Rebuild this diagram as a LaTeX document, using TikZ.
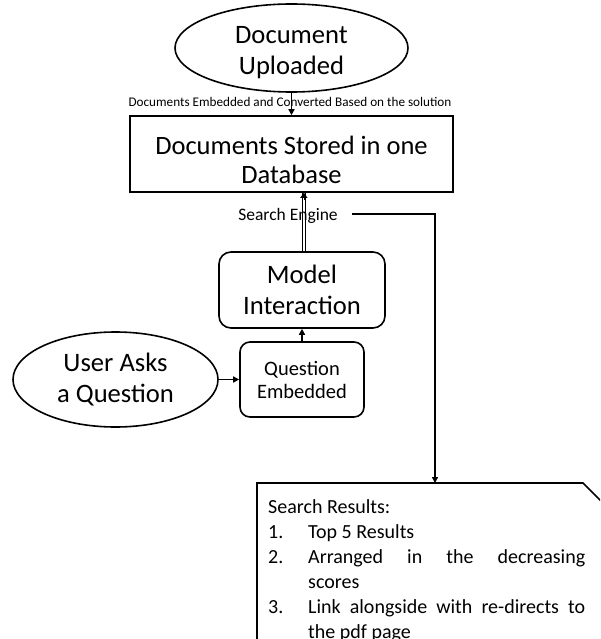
\documentclass[tikz,border=0pt]{standalone}
\usepackage{fontspec}
\setmainfont{Carlito}
\usetikzlibrary{shapes.geometric,arrows.meta}
\begin{document}
\begin{tikzpicture}[x=1pt,y=-1pt,
  box/.style={draw, line width=1.6pt, inner sep=0pt},
  oval/.style={ellipse, draw, line width=1.6pt, inner sep=0pt},
  big/.style={font=\fontsize{26.6}{31}\selectfont, align=center, inner sep=0pt},
  rtext/.style={font=\fontsize{20}{25}\selectfont, inner sep=0pt, anchor=base west},
  link/.style={line width=1.4pt, -{Triangle[length=6pt,width=6pt]}}]
\useasboundingbox (0,0) rectangle (600,639);
\fill[white] (0,0) rectangle (600,639);
\clip (0,0) rectangle (600,639);

% upload step and the database
\node[oval, minimum width=233pt, minimum height=88pt] (up) at (291.5,48) {};
\node[big] (uptext) at (291.5,52.5) {Document\\Uploaded};
\node[box, minimum width=323pt, minimum height=76pt] (db) at (291.5,154) {};
\node[font=\fontsize{26.5}{29}\selectfont, align=center, inner sep=0pt] (dbtext) at (291.5,159.5) {Documents Stored in one\\Database};
\node[font=\fontsize{13.2}{15}\selectfont, inner sep=0pt, anchor=base] (embed) at (290,106.5) {Documents Embedded and Converted Based on the solution};
\draw[link] (up.south) -- (db.north);

% query side
\node[box, rounded corners=12pt, minimum width=166pt, minimum height=76pt, big] (model) at (302,290) {Model\\Interaction};
\node[box, rounded corners=10pt, minimum width=124pt, minimum height=75pt, font=\fontsize{20.5}{23}\selectfont, align=center] (qe) at (302,379.5) {Question\\Embedded};
\node[oval, minimum width=205pt, minimum height=95pt, big] (user) at (115.5,379.5) {User Asks\\a Question};
\draw[link] (user.east) -- (qe.west);
\draw[link] (qe.north) -- (model.south);

% search engine link between model and database
\draw[double, double distance=2.4pt, line width=1.1pt] ([xshift=1.85pt]model.north) -- ([xshift=1.85pt]model.north |- db.south);
\draw[line width=0.1pt, -{Triangle[length=5pt,width=7pt]}] ([xshift=1.85pt,yshift=-7pt]model.north |- db.south) -- ([xshift=1.85pt]model.north |- db.south);
\node[font=\fontsize{17.5}{20}\selectfont, inner sep=0pt, anchor=base] (se) at (288,220.7) {Search Engine};

% results panel with snipped corner
\node[minimum width=360pt, minimum height=220pt, anchor=north west, inner sep=0pt] (resbox) at (257,483) {};
\coordinate (snip) at (583,483);
\draw[line width=1.6pt] (resbox.south west) -- (resbox.north west) -- (snip) -- ++(40,40);

\coordinate (sestart) at (352,214);
\coordinate (bend) at (435,214);
\draw[link] (sestart) -- (bend) -- (bend |- resbox.north);

\node[rtext] (r0) at (268,513.3) {Search Results:};
\node[rtext] (n1) at (268,538) {1.};
\node[rtext] (r1) at (308,538) {Top 5 Results};
\node[rtext] (n2) at (268,563) {2.};
\node[rtext] (r2) at (308,563) {\makebox[277pt][s]{Arranged in the decreasing}};
\node[rtext] (r2b) at (308,588) {scores};
\node[rtext] (n3) at (268,613) {3.};
\node[rtext] (r3) at (308,613) {\makebox[277pt][s]{Link alongside with re-directs to}};
\node[rtext] (r3b) at (308,638) {the pdf page};
\end{tikzpicture}
\end{document}
